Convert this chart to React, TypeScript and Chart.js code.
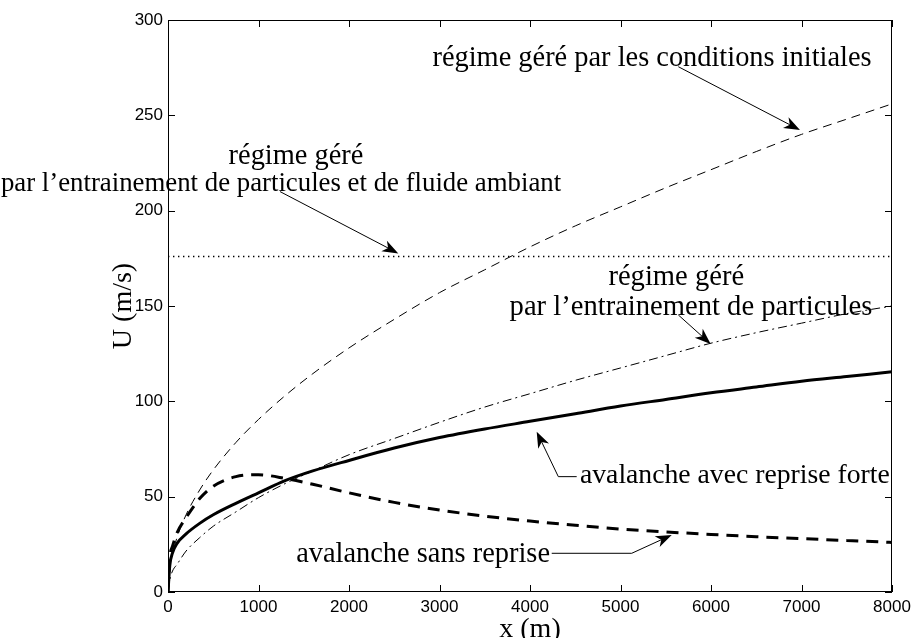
import React, { useEffect, useRef } from "react";
import { Chart, registerables } from "chart.js";

Chart.register(...registerables);

// ---- data ----
const xValues = [0, 20, 50, 100, 200, 350, 500, 750, 1000, 1300, 1600, 2000, 2500, 3000, 3500, 4000, 4500, 5000, 5500, 6000, 6500, 7000, 7500, 8000];
// régime géré par les conditions initiales (thin dashed)
const initialConditions = [0, 12.8, 20.2, 28.6, 40.5, 53.5, 64, 78.4, 90.5, 103.2, 114.5, 128, 143, 157, 169, 181, 192, 202, 212, 221.5, 231, 240, 248, 256];
// régime géré par l'entrainement de particules et de fluide ambiant (dotted)
const particlesAndFluid = [176, 176, 176, 176, 176, 176, 176, 176, 176, 176, 176, 176, 176, 176, 176, 176, 176, 176, 176, 176, 176, 176, 176, 176];
// régime géré par l'entrainement de particules (dash-dot)
const particlesOnly = [0, 6.5, 11, 14.5, 21.5, 28.5, 34.5, 42, 49.5, 57, 63.5, 72, 80.5, 89, 97, 104, 111, 117.5, 124, 130.5, 136, 141, 146, 150];
// avalanche avec reprise forte (thick solid)
const strongEntrainment = [0, 14, 20.5, 25.5, 30.5, 36, 40.5, 46.5, 52, 58.5, 63.5, 69, 75.5, 81, 85.5, 89.5, 93.5, 97.5, 101, 104.5, 107.5, 110.5, 113, 115.5];
// avalanche sans reprise (thick dashed)
const noEntrainment = [0, 18, 24, 31, 39, 49, 55.5, 60.5, 61.5, 59.5, 56.5, 52, 47, 43, 39.8, 37.2, 35, 33, 31.5, 30.2, 29, 28, 27, 26];

const xTicks = [0, 1000, 2000, 3000, 4000, 5000, 6000, 7000, 8000];
const yTicks = [0, 50, 100, 150, 200, 250, 300];

const xTitle = "x (m)";
const yTitle = "U (m/s)";

// annotations, anchored in data coordinates
type Note = {
  lines: { text: string; x: number; y: number; align: CanvasTextAlign; size: number }[];
  path: [number, number][]; // last point = arrow tip
};
const notes: Note[] = [
  {
    lines: [{ text: "régime géré par les conditions initiales", x: 5348, y: 276, align: "center", size: 28.4 }],
    path: [[5639, 275.5], [6983, 242.3]],
  },
  {
    lines: [
      { text: "régime géré", x: 1414, y: 224.5, align: "center", size: 28.4 },
      { text: "par l’entrainement de particules et de fluide ambiant", x: 1249, y: 210.5, align: "center", size: 26.8 },
    ],
    path: [[1238, 210], [2545, 177.6]],
  },
  {
    lines: [
      { text: "régime géré", x: 5616, y: 161.2, align: "center", size: 28.6 },
      { text: "par l’entrainement de particules", x: 5779, y: 145.5, align: "center", size: 28.6 },
    ],
    path: [[5639, 145.3], [5996, 130.1]],
  },
  {
    lines: [{ text: "avalanche avec reprise forte", x: 4552, y: 57.1, align: "left", size: 27.7 }],
    path: [[4516, 60.5], [4313, 60.5], [4074, 84.1]],
  },
  {
    lines: [{ text: "avalanche sans reprise", x: 4221, y: 15.7, align: "right", size: 28.4 }],
    path: [[4240, 20.3], [5124, 20.3], [5566, 29.9]],
  },
];

const SERIF = '"Liberation Serif", "Times New Roman", serif';
const SANS = '"Liberation Sans", Arial, Helvetica, sans-serif';

function drawArrowHead(ctx: CanvasRenderingContext2D, x0: number, y0: number, x1: number, y1: number) {
  const len = 16;
  const half = 6;
  const ang = Math.atan2(y1 - y0, x1 - x0);
  const c = Math.cos(ang);
  const s = Math.sin(ang);
  const bx = x1 - c * len;
  const by = y1 - s * len;
  const nx = x1 - c * len * 0.72;
  const ny = y1 - s * len * 0.72;
  ctx.beginPath();
  ctx.moveTo(x1, y1);
  ctx.lineTo(bx - s * half, by + c * half);
  ctx.lineTo(nx, ny);
  ctx.lineTo(bx + s * half, by - c * half);
  ctx.closePath();
  ctx.fill();
  return [nx, ny];
}

const framePlugin = {
  id: "matlabFrame",
  afterDraw(chart: any) {
    const { ctx, chartArea: a, scales } = chart;
    const xs = scales.x;
    const ys = scales.y;
    ctx.save();
    ctx.strokeStyle = "#000";
    ctx.fillStyle = "#000";
    ctx.lineWidth = 1;
    // box
    ctx.strokeRect(Math.round(a.left) + 0.5, Math.round(a.top) + 0.5, Math.round(a.right - a.left) - 1, Math.round(a.bottom - a.top) - 1);
    // inward ticks
    const tl = 7;
    ctx.beginPath();
    for (const v of xTicks) {
      const px = Math.round(xs.getPixelForValue(v)) + 0.5;
      ctx.moveTo(px, a.bottom);
      ctx.lineTo(px, a.bottom - tl);
      ctx.moveTo(px, a.top);
      ctx.lineTo(px, a.top + tl);
    }
    for (const v of yTicks) {
      const py = Math.round(ys.getPixelForValue(v)) + 0.5;
      ctx.moveTo(a.left, py);
      ctx.lineTo(a.left + tl, py);
      ctx.moveTo(a.right, py);
      ctx.lineTo(a.right - tl, py);
    }
    ctx.stroke();

    // axis titles
    ctx.font = "28px " + SERIF;
    ctx.textAlign = "center";
    ctx.textBaseline = "alphabetic";
    ctx.fillText(xTitle, (a.left + a.right) / 2, a.bottom + 45);
    ctx.save();
    ctx.translate(a.left - 37, (a.top + a.bottom) / 2);
    ctx.rotate(-Math.PI / 2);
    ctx.fillText(yTitle, 0, 0);
    ctx.restore();

    // annotations
    for (const n of notes) {
      ctx.textBaseline = "alphabetic";
      for (const l of n.lines) {
        ctx.font = l.size + "px " + SERIF;
        ctx.textAlign = l.align;
        ctx.fillText(l.text, xs.getPixelForValue(l.x), ys.getPixelForValue(l.y));
      }
      const pts = n.path.map(([x, y]) => [xs.getPixelForValue(x), ys.getPixelForValue(y)]);
      const m = pts.length;
      const [nx, ny] = drawArrowHead(ctx, pts[m - 2][0], pts[m - 2][1], pts[m - 1][0], pts[m - 1][1]);
      ctx.beginPath();
      ctx.lineWidth = 1;
      ctx.moveTo(pts[0][0], pts[0][1]);
      for (let i = 1; i < m - 1; i++) ctx.lineTo(pts[i][0], pts[i][1]);
      ctx.lineTo(nx, ny);
      ctx.stroke();
    }
    ctx.restore();
  },
};

const toPoints = (ys: number[]) => xValues.map((x, i) => ({ x, y: ys[i] }));

export default function App() {
  const ref = useRef<HTMLCanvasElement | null>(null);

  useEffect(() => {
    if (!ref.current) return;
    const common = { pointRadius: 0, borderColor: "#000", fill: false, cubicInterpolationMode: "monotone" as const };
    const chart = new Chart(ref.current, {
      type: "line",
      data: {
        datasets: [
          { ...common, label: "conditions initiales", data: toPoints(initialConditions), borderWidth: 1, borderDash: [9, 6] },
          { ...common, label: "particules et fluide ambiant", data: toPoints(particlesAndFluid), borderWidth: 1.4, borderDash: [1.4, 3.6] },
          { ...common, label: "particules", data: toPoints(particlesOnly), borderWidth: 1, borderDash: [9, 4, 2, 4] },
          { ...common, label: "avalanche avec reprise forte", data: toPoints(strongEntrainment), borderWidth: 3 },
          { ...common, label: "avalanche sans reprise", data: toPoints(noEntrainment), borderWidth: 3, borderDash: [12, 8] },
        ],
      },
      options: {
        responsive: false,
        animation: false,
        events: [],
        layout: { padding: { top: 20, right: 24, left: 0, bottom: 0 } },
        plugins: { legend: { display: false }, tooltip: { enabled: false }, title: { display: false } },
        scales: {
          x: {
            type: "linear",
            min: 0,
            max: 8000,
            grid: { display: false, drawTicks: false },
            border: { display: false },
            afterBuildTicks: (s: any) => { s.ticks = xTicks.map((v) => ({ value: v })); },
            afterFit: (s: any) => { s.height = 46; },
            ticks: { color: "#000", font: { family: SANS, size: 17 }, padding: 5, maxRotation: 0, autoSkip: false, callback: (v: any) => String(v) },
          },
          y: {
            type: "linear",
            min: 0,
            max: 300,
            grid: { display: false, drawTicks: false },
            border: { display: false },
            afterBuildTicks: (s: any) => { s.ticks = yTicks.map((v) => ({ value: v })); },
            afterFit: (s: any) => { s.width = 168; },
            ticks: { color: "#000", font: { family: SANS, size: 17 }, padding: 5, autoSkip: false, callback: (v: any) => String(v) },
          },
        },
      },
      plugins: [framePlugin],
    });
    return () => chart.destroy();
  }, []);

  return (
    <div style={{ position: "fixed", left: 0, top: 0, width: 916, height: 638, background: "#fff" }}>
      <canvas ref={ref} width={916} height={638} style={{ display: "block" }} />
    </div>
  );
}
